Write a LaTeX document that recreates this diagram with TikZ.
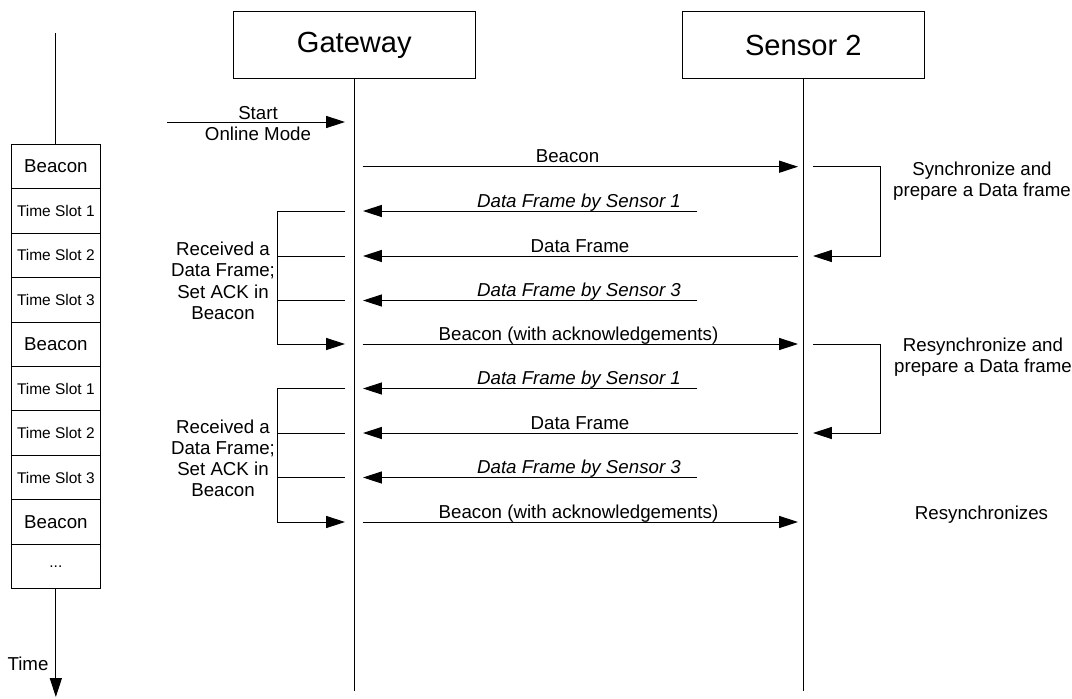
\documentclass[tikz,border=0pt]{standalone}
\usepackage{fontspec}
\setmainfont{Liberation Sans}
\usetikzlibrary{arrows.meta}

\begin{document}
\begin{tikzpicture}[x=0.025cm, y=-0.025cm, line width=0.7pt,
  msg/.style={-{Triangle[length=0.47cm, width=0.3cm]}},
  lbl/.style={font=\fontsize{13.3}{15}\selectfont, inner sep=0pt, align=center},
  actor/.style={draw, minimum width=6.05cm, minimum height=1.675cm, inner sep=0pt, font=\fontsize{20.7}{24}\selectfont},
  slotbox/.style={draw, minimum width=2.21cm, minimum height=1.111cm, inner sep=0pt, outer sep=0pt, font=\fontsize{11}{13}\selectfont},
  bigslot/.style={slotbox, font=\fontsize{13.3}{15}\selectfont}]

\useasboundingbox (0,0) rectangle (1072,698);

%%% PARTICIPANTS

\node[actor] (gw) at (354.3,45.2) {Gateway};
\node[actor] (sn) at (803.3,45.2) {Sensor 2};

\coordinate (gwend) at (354.3,690.7);
\coordinate (snend) at (803.3,690.7);
\draw (gw.south) -- (gwend);
\draw (sn.south) -- (snend);

%%% TIME LINE

\node[bigslot] (slot1) at (55.85,166.5) {Beacon};
\node[slotbox] (slot2) at (55.85,211.0) {Time Slot 1};
\node[slotbox] (slot3) at (55.85,255.4) {Time Slot 2};
\node[slotbox] (slot4) at (55.85,299.8) {Time Slot 3};
\node[bigslot] (slot5) at (55.85,344.3) {Beacon};
\node[slotbox] (slot6) at (55.85,388.7) {Time Slot 1};
\node[slotbox] (slot7) at (55.85,433.1) {Time Slot 2};
\node[slotbox] (slot8) at (55.85,477.6) {Time Slot 3};
\node[bigslot] (slot9) at (55.85,522.0) {Beacon};
\node[slotbox] (slot10) at (55.85,566.5) {...};

\coordinate (ttop) at (55.85,33);
\coordinate (tend) at (55.85,697);
\draw (ttop) -- (slot1.north);
\draw[msg] (slot10.south) -- (tend);
\node[lbl] (time) at (28,664) {Time};

%%% START

\coordinate (start) at (167,122);
\coordinate (startgw) at (345,122);
\draw[msg] (start) -- (startgw);
\node[lbl] (startlbl) at (258,123.3) {Start\\Online Mode};

%%% FIRST SUPERFRAME

\coordinate (gw1) at (362.5,166.7);
\coordinate (sn1) at (798,166.7);
\draw[msg] (gw1) -- (sn1);
\node[lbl, anchor=base] (m1) at (567.5,162) {Beacon};

\coordinate (gw2) at (363,211);
\coordinate (ot2) at (697,211);
\draw[msg] (ot2) -- (gw2);
\node[lbl, anchor=base] (m2) at (579,207) {\itshape Data Frame by Sensor 1};

\coordinate (gw3) at (363,256);
\coordinate (sn3) at (798,256);
\draw[msg] (sn3) -- (gw3);
\node[lbl, anchor=base] (m3) at (580,252) {Data Frame};

\coordinate (gw4) at (363,300.5);
\coordinate (ot4) at (697,300.5);
\draw[msg] (ot4) -- (gw4);
\node[lbl, anchor=base] (m4) at (579,296.5) {\itshape Data Frame by Sensor 3};

\coordinate (gw5) at (362.5,344);
\coordinate (sn5) at (798,344);
\draw[msg] (gw5) -- (sn5);
\node[lbl, anchor=base] (m5) at (578.5,340) {Beacon (with acknowledgements)};

%%% SECOND SUPERFRAME

\coordinate (gw6) at (363,388.5);
\coordinate (ot6) at (697,388.5);
\draw[msg] (ot6) -- (gw6);
\node[lbl, anchor=base] (m6) at (579,384.5) {\itshape Data Frame by Sensor 1};

\coordinate (gw7) at (363,433);
\coordinate (sn7) at (798,433);
\draw[msg] (sn7) -- (gw7);
\node[lbl, anchor=base] (m7) at (580,429) {Data Frame};

\coordinate (gw8) at (363,477.5);
\coordinate (ot8) at (697,477.5);
\draw[msg] (ot8) -- (gw8);
\node[lbl, anchor=base] (m8) at (579,473.5) {\itshape Data Frame by Sensor 3};

\coordinate (gw9) at (362.5,522);
\coordinate (sn9) at (798,522);
\draw[msg] (gw9) -- (sn9);
\node[lbl, anchor=base] (m9) at (578.5,518) {Beacon (with acknowledgements)};

%%% GATEWAY SIDE

\coordinate (gx) at (277.7,0);
\coordinate (ga1) at (345,211);
\coordinate (gb1) at (345,256);
\coordinate (gc1) at (345,300.5);
\coordinate (gd1) at (345,344);
\draw[msg] (ga1) -- (ga1 -| gx) -- (gd1 -| gx) -- (gd1);
\draw (gb1 -| gx) -- (gb1);
\draw (gc1 -| gx) -- (gc1);
\node[lbl] (ack1) at (223,280.8) {Received a\\Data Frame;\\Set ACK in\\Beacon};

\coordinate (ga2) at (345,388.5);
\coordinate (gb2) at (345,433);
\coordinate (gc2) at (345,477.5);
\coordinate (gd2) at (345,522);
\draw[msg] (ga2) -- (ga2 -| gx) -- (gd2 -| gx) -- (gd2);
\draw (gb2 -| gx) -- (gb2);
\draw (gc2 -| gx) -- (gc2);
\node[lbl] (ack2) at (223,458.3) {Received a\\Data Frame;\\Set ACK in\\Beacon};

%%% SENSOR SIDE

\coordinate (sx) at (880,0);
\coordinate (sa1) at (813,166.7);
\coordinate (sb1) at (813,256);
\draw[msg] (sa1) -- (sa1 -| sx) -- (sb1 -| sx) -- (sb1);
\node[lbl] (sync1) at (982,181.4) {Synchronize and\\prepare a Data frame};

\coordinate (sa2) at (813,344);
\coordinate (sb2) at (813,433);
\draw[msg] (sa2) -- (sa2 -| sx) -- (sb2 -| sx) -- (sb2);
\node[lbl] (sync2) at (983,357.4) {Resynchronize and\\prepare a Data frame};

\node[lbl] (sync3) at (981.5,514.2) {Resynchronizes};

\end{tikzpicture}
\end{document}
